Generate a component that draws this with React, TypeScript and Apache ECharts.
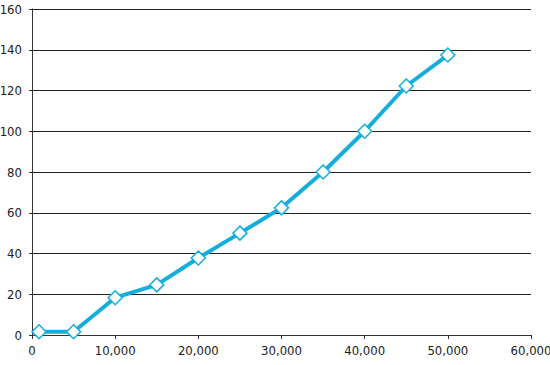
import React, { useEffect, useRef } from "react";
import * as echarts from "echarts";

const xValues = [850, 5000, 10000, 15000, 20000, 25000, 30000, 35000, 40000, 45000, 50000];
const yValues = [1.6, 1.6, 18.3, 24.6, 37.8, 50, 62.4, 80, 100, 122.2, 137.4];

const FONT = "'DejaVu Sans Condensed', 'Liberation Sans Narrow', sans-serif";

export default function App() {
  const ref = useRef<HTMLDivElement>(null);
  useEffect(() => {
    if (!ref.current) return;
    const chart = echarts.init(ref.current, null, { renderer: "svg" });
    chart.setOption({
      animation: false,
      grid: { left: 32, right: 19, top: 9, bottom: 30, containLabel: false, outerBoundsMode: "none" },
      xAxis: {
        type: "value",
        min: 0,
        max: 60000,
        interval: 10000,
        axisLine: { show: true, lineStyle: { color: "#333", width: 1 } },
        axisTick: { show: true, length: 4, lineStyle: { color: "#333" } },
        splitLine: { show: false },
        axisLabel: {
          color: "#222",
          fontFamily: FONT,
          fontSize: 13,
          margin: 9,
          formatter: (v: number) => v.toLocaleString("en-US"),
        },
      },
      yAxis: {
        type: "value",
        min: 0,
        max: 160,
        interval: 20,
        axisLine: { show: true, lineStyle: { color: "#333", width: 1 } },
        axisTick: { show: true, length: 3, lineStyle: { color: "#333" } },
        splitLine: { show: true, lineStyle: { color: "#222", width: 1 } },
        axisLabel: { color: "#222", fontFamily: FONT, fontSize: 13, margin: 10 },
      },
      series: [
        {
          type: "line",
          data: xValues.map((x, i) => [x, yValues[i]]),
          lineStyle: { color: "#14AEDC", width: 4 },
          symbol: "diamond",
          symbolSize: 14,
          itemStyle: { color: "#ffffff", borderColor: "#14AEDC", borderWidth: 1.5 },
        },
      ],
    });
    return () => chart.dispose();
  }, []);
  return <div ref={ref} style={{ width: 550, height: 365, position: "absolute", left: 0, top: 0, background: "#fff" }} />;
}
